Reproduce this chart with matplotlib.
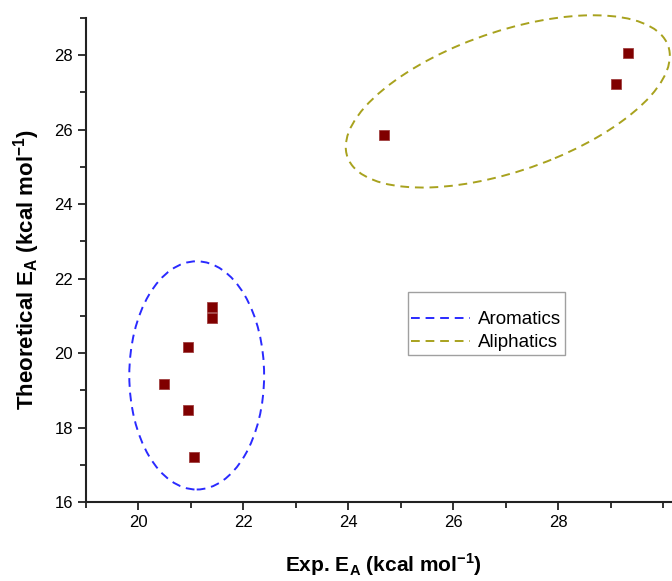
import numpy as np
import matplotlib
matplotlib.use("Agg")
import matplotlib.pyplot as plt
from matplotlib.patches import Ellipse
from matplotlib.lines import Line2D
from matplotlib.ticker import MultipleLocator

plt.rcParams['font.family'] = ['Liberation Sans', 'DejaVu Sans']
plt.rcParams['mathtext.fontset'] = 'custom'
plt.rcParams['mathtext.bf'] = 'Liberation Sans:bold'
plt.rcParams['mathtext.rm'] = 'Liberation Sans'

# experimental vs theoretical activation energies (kcal/mol)
exp_ea = [20.49, 20.94, 20.94, 21.06, 21.40, 21.40, 24.68, 29.10, 29.33]
theo_ea = [19.16, 20.17, 18.48, 17.22, 21.24, 20.95, 25.85, 27.24, 28.06]

# group outlines: center x, center y, width, height, angle
arom_ell = (21.11, 19.40, 2.57, 6.13, 0)
aliph_ell = (27.04, 26.76, 6.86, 3.54, 30.5)
group_names = ["Aromatics", "Aliphatics"]
group_colors = ["#2a2aff", "#a8a21e"]

xticks = [20, 22, 24, 26, 28]
yticks = [16, 18, 20, 22, 24, 26, 28]

fig = plt.figure(figsize=(6.72, 5.81), dpi=100)
ax = fig.add_axes([0.128, 0.136, 0.872, 0.833])

ax.plot(exp_ea, theo_ea, 's', color='#800000', ms=7.5, mec='#a04040', mew=0.6, zorder=3)

dash = (0, (4.5, 3))
for e, c in zip([arom_ell, aliph_ell], group_colors):
    ax.add_patch(Ellipse((e[0], e[1]), e[2], e[3], angle=e[4], fill=False,
                         edgecolor=c, lw=1.4, linestyle=dash, clip_on=False))

ax.set_xlim(19, 30.17)
ax.set_ylim(16, 29)
ax.set_xticks(xticks)
ax.set_yticks(yticks)
ax.xaxis.set_minor_locator(MultipleLocator(1))
ax.yaxis.set_minor_locator(MultipleLocator(1))
ax.tick_params(which='major', direction='out', length=6, width=1.3, labelsize=12, color='#222222')
ax.tick_params(which='minor', direction='out', length=4, width=1.3, color='#222222')
ax.spines['top'].set_visible(False)
ax.spines['right'].set_visible(False)
for s in ['left', 'bottom']:
    ax.spines[s].set_linewidth(1.5)
    ax.spines[s].set_color('#222222')

ax.set_xlabel(r'Exp. E$_{\mathbf{A}}$ (kcal mol$^{\mathbf{-1}}$)', fontsize=15, fontweight='bold')
ax.set_ylabel(r'Theoretical E$_{\mathbf{A}}$ (kcal mol$^{\mathbf{-1}}$)', fontsize=16, fontweight='bold')
ax.xaxis.set_label_coords(0.508, -0.103)
ax.yaxis.set_label_coords(-0.075, 0.481)

handles = [Line2D([], [], color=c, lw=1.4, linestyle=dash) for c in group_colors]
leg = ax.legend(handles, group_names, loc='upper left', bbox_to_anchor=(0.549, 0.434),
                fontsize=13.5, handlelength=3.1, frameon=True, fancybox=False,
                edgecolor='#888888', borderpad=0.2, labelspacing=0.3, handletextpad=0.43,
                borderaxespad=0, title=' ', title_fontsize=7)
leg.get_frame().set_linewidth(1.0)

fig.savefig("out.png", dpi=100)
